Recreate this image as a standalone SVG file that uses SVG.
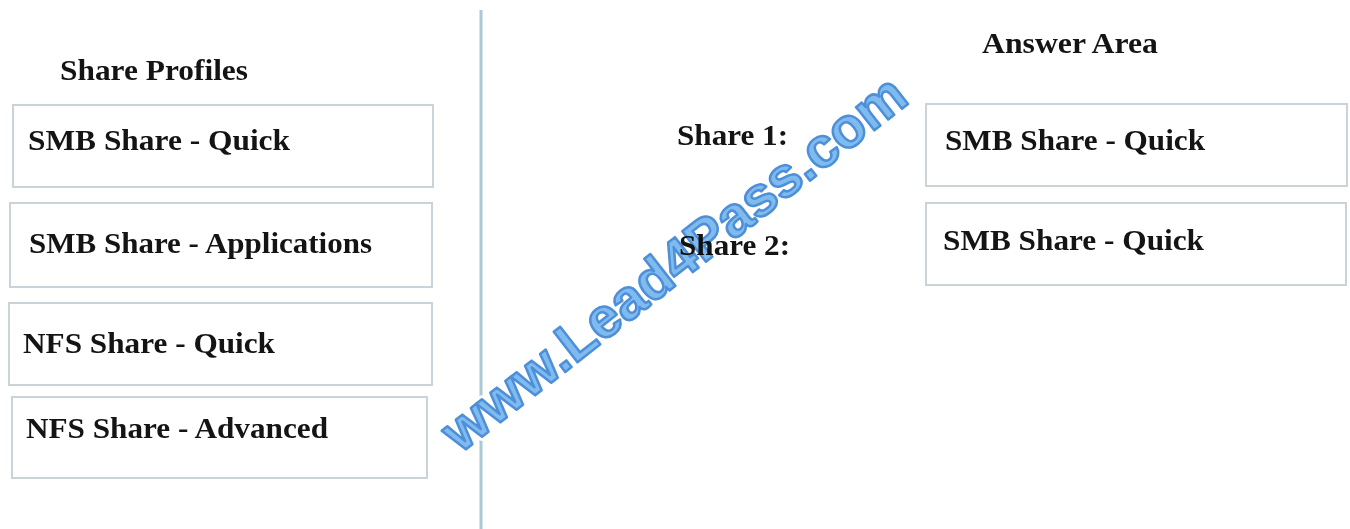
<svg xmlns="http://www.w3.org/2000/svg" width="1350" height="529" viewBox="0 0 1350 529">
<style>
.box{fill:#ffffff;stroke:#c9d3d8;stroke-width:2}
.t{font-family:"Liberation Serif","Times New Roman",serif;font-weight:bold;font-size:30px;fill:#141414}
.wm{font-family:"Liberation Sans",Arial,sans-serif;font-weight:bold;font-size:56px;fill:#80bbef;stroke:#4d8fd8;stroke-width:2.5;stroke-linejoin:round;mix-blend-mode:multiply}
.wmh{font-family:"Liberation Sans",Arial,sans-serif;font-weight:bold;font-size:56px;fill:#ffffff;stroke:#ffffff;stroke-width:8;stroke-linejoin:round}
</style>
<rect width="1350" height="529" fill="#ffffff"/>
<g id="divider"><line x1="481" y1="10" x2="481" y2="529" stroke="#a9c9d6" stroke-width="3"/></g>
<g id="p1"><rect class="box" x="13" y="105" width="420" height="82"/></g>
<g id="p2"><rect class="box" x="10" y="203" width="422" height="84"/></g>
<g id="p3"><rect class="box" x="9" y="303" width="423" height="82"/></g>
<g id="p4"><rect class="box" x="12" y="397" width="415" height="81"/></g>
<g id="a1"><rect class="box" x="926" y="104" width="421" height="82"/></g>
<g id="a2"><rect class="box" x="926" y="203" width="420" height="82"/></g>
<g id="watermark-halo" transform="translate(460,454) rotate(-38)">
<text class="wmh" x="0" y="0" textLength="572" lengthAdjust="spacingAndGlyphs">www.Lead4Pass.com</text>
</g>
<g id="labels">
<text class="t" x="60" y="80" textLength="188" lengthAdjust="spacingAndGlyphs">Share Profiles</text>
<text class="t" x="982" y="53" textLength="176" lengthAdjust="spacingAndGlyphs">Answer Area</text>
<text class="t" x="28" y="150" textLength="262" lengthAdjust="spacingAndGlyphs">SMB Share - Quick</text>
<text class="t" x="29" y="253" textLength="343" lengthAdjust="spacingAndGlyphs">SMB Share - Applications</text>
<text class="t" x="23" y="353" textLength="252" lengthAdjust="spacingAndGlyphs">NFS Share - Quick</text>
<text class="t" x="26" y="438" textLength="302" lengthAdjust="spacingAndGlyphs">NFS Share - Advanced</text>
<text class="t" x="677" y="145" textLength="111" lengthAdjust="spacingAndGlyphs">Share 1:</text>
<text class="t" x="679" y="255" textLength="111" lengthAdjust="spacingAndGlyphs">Share 2:</text>
<text class="t" x="945" y="150" textLength="260" lengthAdjust="spacingAndGlyphs">SMB Share - Quick</text>
<text class="t" x="943" y="250" textLength="261" lengthAdjust="spacingAndGlyphs">SMB Share - Quick</text>
</g>
<g id="connectors"></g>
<g id="watermark" transform="translate(460,454) rotate(-38)">
<text class="wm" x="0" y="0" textLength="572" lengthAdjust="spacingAndGlyphs">www.Lead4Pass.com</text>
</g>
</svg>
